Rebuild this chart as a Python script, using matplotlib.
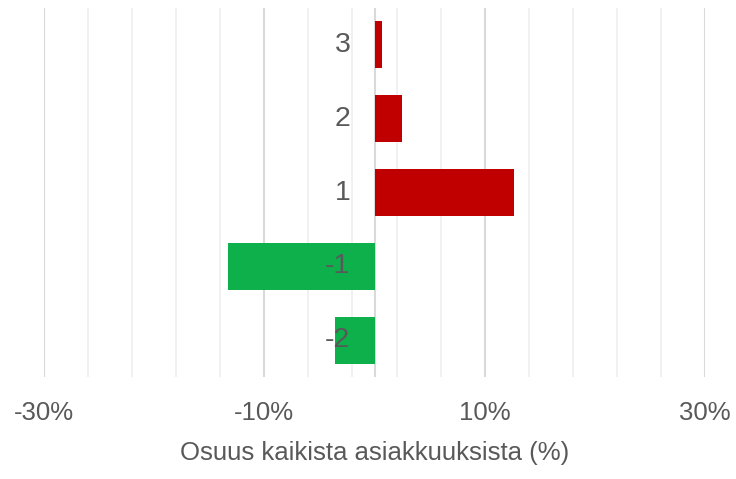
import matplotlib
matplotlib.use("Agg")
import matplotlib.pyplot as plt
import numpy as np

categories = ["3", "2", "1", "-1", "-2"]
values = [0.7, 2.5, 12.7, -13.3, -3.6]   # percent
colors = ["#C00000", "#C00000", "#C00000", "#0DB04B", "#0DB04B"]
xtick_values = [-30, -10, 10, 30]
xtick_labels = ["-30%", "-10%", "10%", "30%"]
minor_grid = [-26, -22, -18, -14, -6, -2, 2, 6, 14, 18, 22, 26]
major_grid = [-30, -10, 0, 10, 30]

plt.rcParams['font.family'] = ['Liberation Sans', 'DejaVu Sans']
text_color = "#595959"

fig = plt.figure(figsize=(7.36, 4.79), dpi=100)
ax = fig.add_axes([44/736, 1 - 377/479, (705 - 44)/736, (377 - 8)/479])

y = np.arange(len(categories))[::-1]
for g in minor_grid:
    ax.axvline(g, color="#F0F0F0", lw=1.3, zorder=0)
for g in major_grid:
    ax.axvline(g, color="#D9D9D9", lw=1.5, zorder=0)

ax.barh(y, values, height=0.635, color=colors, zorder=2)

ax.set_xlim(-30, 30)
ax.set_ylim(-0.5, len(categories) - 0.5)
ax.set_xticks(xtick_values)
ax.set_xticklabels(xtick_labels, fontsize=18.5, color=text_color)
ax.tick_params(axis='x', length=0, pad=17)
ax.set_yticks([])
for s in ax.spines.values():
    s.set_visible(False)

for yi, c in zip(y, categories):
    ax.annotate(c, xy=(0, yi), xytext=(-17.3, 0), textcoords='offset points',
                ha='right', va='center', fontsize=20.5, color=text_color, zorder=5)

ax.set_xlabel("Osuus kaikista asiakkuuksista (%)", fontsize=18.5, color=text_color, labelpad=12)

fig.savefig("out.png", dpi=100)
